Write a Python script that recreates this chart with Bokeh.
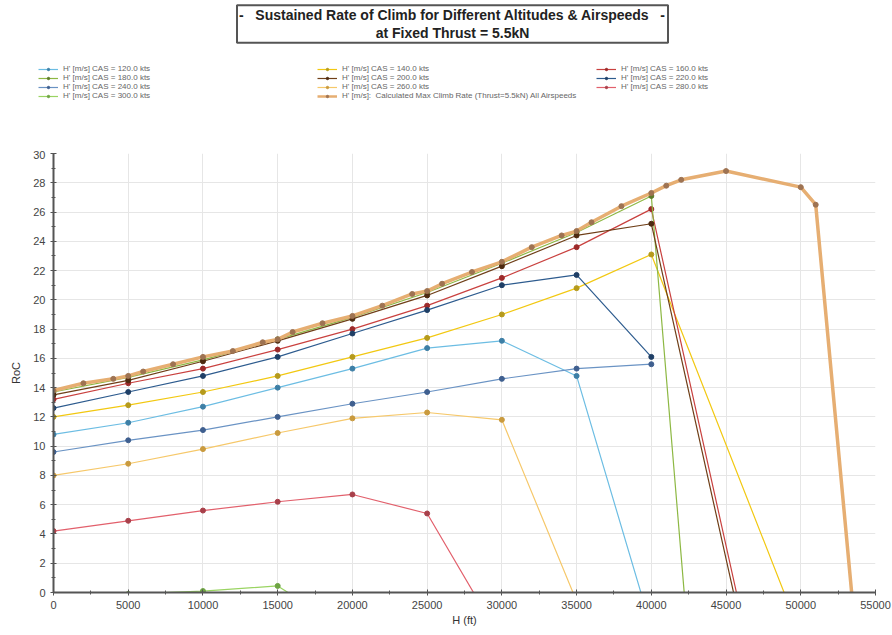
from bokeh.plotting import figure
from bokeh.layouts import column
from bokeh.models import Legend, LegendItem, Label, SingleIntervalTicker, Range1d, ColumnDataSource
from bokeh.embed import file_html
from bokeh.resources import INLINE

# ---- data (altitude in ft, RoC) ----
alt_120 = [0, 5000, 10000, 15000, 20000, 25000, 30000, 35000, 40000]
roc_120 = [10.8, 11.6, 12.7, 14.0, 15.3, 16.7, 17.2, 14.8, -2.4]

alt_140 = [0, 5000, 10000, 15000, 20000, 25000, 30000, 35000, 40000, 50000]
roc_140 = [12.0, 12.8, 13.7, 14.8, 16.1, 17.4, 19.0, 20.8, 23.1, -2.9]

alt_160 = [0, 5000, 10000, 15000, 20000, 25000, 30000, 35000, 40000, 50000]
roc_160 = [13.2, 14.3, 15.3, 16.6, 18.0, 19.6, 21.5, 23.6, 26.2, -19.8]

alt_180 = [0, 5000, 10000, 15000, 20000, 25000, 30000, 35000, 40000, 45000]
roc_180 = [13.7, 14.7, 15.9, 17.3, 18.8, 20.5, 22.5, 24.6, 27.1, -34.5]

alt_200 = [0, 5000, 10000, 15000, 20000, 25000, 30000, 35000, 40000, 50000]
roc_200 = [13.5, 14.5, 15.8, 17.2, 18.7, 20.3, 22.3, 24.4, 25.2, -20.6]

alt_220 = [0, 5000, 10000, 15000, 20000, 25000, 30000, 35000, 40000]
roc_220 = [12.6, 13.7, 14.8, 16.1, 17.7, 19.3, 21.0, 21.7, 16.1]

alt_240 = [0, 5000, 10000, 15000, 20000, 25000, 30000, 35000, 40000]
roc_240 = [9.6, 10.4, 11.1, 12.0, 12.9, 13.7, 14.6, 15.3, 15.6]

alt_260 = [0, 5000, 10000, 15000, 20000, 25000, 30000, 35000]
roc_260 = [8.0, 8.8, 9.8, 10.9, 11.9, 12.3, 11.8, -0.6]

alt_280 = [0, 5000, 10000, 15000, 20000, 25000, 30000]
roc_280 = [4.2, 4.9, 5.6, 6.2, 6.7, 5.4, -3.3]

alt_300 = [0, 5000, 10000, 15000, 20000]
roc_300 = [-0.35, -0.1, 0.1, 0.45, -2.8]

alt_max = [0, 2000, 4000, 5000, 6000, 8000, 10000, 12000, 14000, 15000, 16000,
           18000, 20000, 22000, 24000, 25000, 26000, 28000, 30000, 32000, 34000,
           35000, 36000, 38000, 40000, 41000, 42000, 45000, 50000, 51000, 55000]
roc_max = [13.8, 14.3, 14.6, 14.8, 15.1, 15.6, 16.1, 16.5, 17.1, 17.3, 17.8,
           18.4, 18.9, 19.6, 20.4, 20.6, 21.1, 21.9, 22.6, 23.6, 24.4,
           24.7, 25.3, 26.4, 27.3, 27.8, 28.2, 28.8, 27.7, 26.5, -17.6]

labels = ["H' [m/s] CAS = 120.0 kts", "H' [m/s] CAS = 140.0 kts", "H' [m/s] CAS = 160.0 kts",
          "H' [m/s] CAS = 180.0 kts", "H' [m/s] CAS = 200.0 kts", "H' [m/s] CAS = 220.0 kts",
          "H' [m/s] CAS = 240.0 kts", "H' [m/s] CAS = 260.0 kts", "H' [m/s] CAS = 280.0 kts",
          "H' [m/s] CAS = 300.0 kts",
          "H' [m/s]:  Calculated Max Climb Rate (Thrust=5.5kN) All Airspeeds"]

NB = "\u00a0" * 3
title_text = "-" + NB + "Sustained Rate of Climb for Different Altitudes & Airspeeds" + NB + "-\nat Fixed Thrust = 5.5kN"

series = [
    (alt_120, roc_120, "#6cbde3", "#3d7fa6", 1.2),
    (alt_140, roc_140, "#f2c811", "#b59a1c", 1.2),
    (alt_160, roc_160, "#c9413f", "#9c2a2a", 1.2),
    (alt_180, roc_180, "#8db843", "#5d7b2a", 1.2),
    (alt_200, roc_200, "#6f3f18", "#4d2a10", 1.2),
    (alt_220, roc_220, "#2d5b8e", "#1f3f66", 1.2),
    (alt_240, roc_240, "#6a93c4", "#3f5f8f", 1.2),
    (alt_260, roc_260, "#f6c86a", "#c99a3e", 1.2),
    (alt_280, roc_280, "#e2606c", "#a8404a", 1.2),
    (alt_300, roc_300, "#9ad462", "#6ea443", 1.2),
    (alt_max, roc_max, "#e6ae72", "#9e7352", 3.5),
]

FONT = "Liberation Sans"

# ---- header: title box + legend (its ranges lie outside all data, so only the legend shows) ----
head = figure(width=892, height=150, output_backend="svg", toolbar_location=None,
              x_axis_type=None, y_axis_type=None,
              x_range=Range1d(-2, -1), y_range=Range1d(-200, -199),
              min_border_left=0, min_border_right=0, min_border_top=0, min_border_bottom=0,
              title_location=None, frame_align=False)
head.outline_line_color = None
head.grid.visible = False

# ---- main chart ----
p = figure(width=892, height=485, output_backend="svg", toolbar_location=None,
           x_range=Range1d(0, 55000), y_range=Range1d(0, 30), title_location=None,
           min_border_left=53, min_border_right=17, min_border_top=3, min_border_bottom=43,
           frame_align=False)
p.outline_line_color = None

items = []
for (xs, ys, lc, mc, lw), lab in zip(series, labels):
    src = ColumnDataSource(dict(x=xs, y=ys))
    p.line("x", "y", source=src, line_color=lc, line_width=lw)
    p.scatter("x", "y", source=src, size=5, fill_color=mc, line_color=mc)
    h1 = head.line("x", "y", source=src, line_color=lc, line_width=min(lw, 2.5))
    h2 = head.scatter("x", "y", source=src, size=5, fill_color=mc, line_color=mc)
    items.append(LegendItem(label=lab, renderers=[h1, h2], index=0))

for ax in (p.xaxis[0], p.yaxis[0]):
    ax.axis_line_color = "#555555"
    ax.axis_line_width = 2
    ax.major_tick_line_color = "#555555"
    ax.minor_tick_line_color = "#555555"
    ax.major_tick_in = 3
    ax.major_tick_out = 3
    ax.minor_tick_in = 2
    ax.minor_tick_out = 2
    ax.major_label_text_font = FONT
    ax.major_label_text_font_size = "11px"
    ax.major_label_text_color = "#444444"
    ax.axis_label_text_font = FONT
    ax.axis_label_text_font_size = "11px"
    ax.axis_label_text_font_style = "normal"
    ax.axis_label_text_color = "#333333"
p.xaxis[0].ticker = SingleIntervalTicker(interval=5000, num_minor_ticks=2)
p.yaxis[0].ticker = SingleIntervalTicker(interval=2, num_minor_ticks=2)
p.xaxis[0].axis_label = "H (ft)"
p.yaxis[0].axis_label = "RoC"
p.xaxis[0].axis_label_standoff = 2
p.yaxis[0].axis_label_standoff = 8
p.xgrid[0].ticker = p.xaxis[0].ticker
p.ygrid[0].ticker = p.yaxis[0].ticker
p.xgrid.grid_line_color = "#e6e6e6"
p.ygrid.grid_line_color = "#e6e6e6"

legend = Legend(items=items, ncols=3, orientation="horizontal", location=(38, 50),
                glyph_width=20, glyph_height=6, label_height=6, spacing=0,
                label_standoff=5, label_width=254, padding=2, margin=0,
                label_text_font=FONT, label_text_font_size="8px", label_text_color="#666666",
                border_line_color=None, background_fill_alpha=0)
head.add_layout(legend, "center")

title = Label(x=452, y=126.5, x_units="screen", y_units="screen", text=title_text,
              text_align="center", text_baseline="middle", text_font=FONT,
              text_font_size="14px", text_font_style="bold", text_color="#222222",
              text_line_height=1.1,
              border_line_color="#555555", border_line_width=2,
              background_fill_color="white", padding=2)
head.add_layout(title, "center")

open("out.html", "w").write(file_html(column(head, p, spacing=0), INLINE))
